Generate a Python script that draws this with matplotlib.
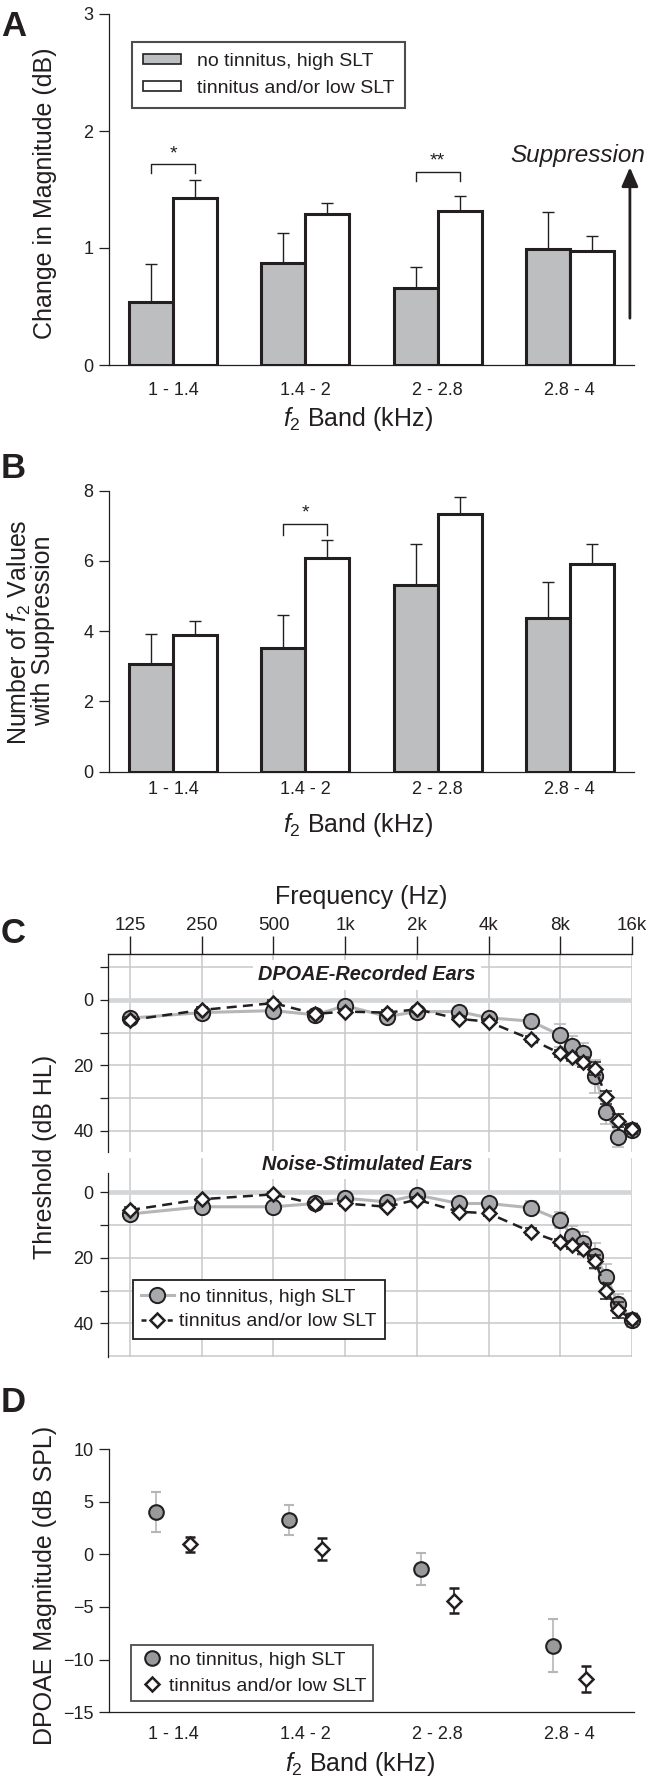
import numpy as np
import matplotlib
matplotlib.use('Agg')
import matplotlib.pyplot as plt
from matplotlib.patches import Patch
from matplotlib.lines import Line2D
from matplotlib.ticker import NullLocator, FixedLocator

plt.rcParams['font.family'] = ['Liberation Sans', 'DejaVu Sans']
plt.rcParams['mathtext.fontset'] = 'custom'
plt.rcParams['mathtext.rm'] = 'Liberation Sans'
plt.rcParams['mathtext.it'] = 'Liberation Sans:italic'
plt.rcParams['mathtext.bf'] = 'Liberation Sans:bold'

# ---------------- data ----------------
bands = ['1 - 1.4', '1.4 - 2', '2 - 2.8', '2.8 - 4']
legend_labels = ['no tinnitus, high SLT', 'tinnitus and/or low SLT']

# Panel A: change in magnitude (dB)
a_no = [0.54, 0.87, 0.655, 0.99]
a_no_err = [0.32, 0.255, 0.185, 0.32]
a_tin = [1.43, 1.29, 1.32, 0.975]
a_tin_err = [0.15, 0.095, 0.125, 0.13]

# Panel B: number of f2 values with suppression
b_no = [3.08, 3.53, 5.32, 4.39]
b_no_err = [0.83, 0.93, 1.16, 1.02]
b_tin = [3.90, 6.07, 7.34, 5.92]
b_tin_err = [0.40, 0.52, 0.47, 0.57]

# Panel C: audiometric thresholds (dB HL)
freqs = [125, 250, 500, 750, 1000, 1500, 2000, 3000, 4000, 6000,
         8000, 9000, 10000, 11200, 12500, 14000, 16000]
freq_ticks = [125, 250, 500, 1000, 2000, 4000, 8000, 16000]
freq_labels = ['125', '250', '500', '1k', '2k', '4k', '8k', '16k']

c_rec_no = [5.6, 3.9, 3.3, 4.6, 1.8, 5.1, 3.6, 3.6, 5.5, 6.5,
            10.8, 14.2, 16.2, 23.4, 34.4, 42.0, 39.7]
c_rec_no_se = [1.0, 1.0, 1.0, 1.0, 1.0, 1.0, 1.0, 1.0, 1.2, 2.0,
               3.5, 3.0, 3.0, 5.0, 3.5, 3.0, 2.0]
c_rec_tin = [6.2, 3.1, 1.0, 4.3, 3.6, 3.9, 2.9, 5.8, 6.7, 12.0,
             16.4, 17.4, 19.0, 21.0, 29.8, 37.0, 39.4]
c_rec_tin_se = [0.8, 0.8, 0.8, 0.8, 0.8, 0.8, 0.8, 0.8, 0.8, 1.0,
                1.2, 1.2, 1.5, 2.0, 2.0, 2.0, 1.5]

c_noi_no = [6.6, 4.4, 4.4, 3.4, 1.8, 2.9, 0.8, 3.4, 3.4, 4.7,
            8.5, 13.4, 15.6, 19.5, 25.8, 34.0, 39.0]
c_noi_no_se = [1.0, 1.0, 1.0, 1.0, 1.0, 1.0, 1.0, 1.0, 1.0, 2.0,
               2.5, 3.0, 3.5, 4.0, 4.0, 3.0, 2.0]
c_noi_tin = [5.4, 2.1, 0.6, 3.6, 3.4, 4.4, 2.2, 5.9, 6.4, 12.0,
             15.3, 16.1, 17.4, 21.0, 30.2, 36.0, 38.8]
c_noi_tin_se = [0.8, 0.8, 0.8, 0.8, 0.8, 0.8, 0.8, 0.8, 0.8, 1.0,
                1.2, 1.2, 1.5, 2.0, 2.5, 2.5, 1.5]

# Panel D: DPOAE magnitude (dB SPL)
d_no = [4.05, 3.26, -1.42, -8.67]
d_no_err = [1.9, 1.42, 1.5, 2.55]
d_tin = [0.95, 0.47, -4.4, -11.87]
d_tin_err = [0.7, 1.05, 1.2, 1.25]

# ---------------- style ----------------
K = '#231f20'
BAR_GRAY = '#bcbec0'
PT_GRAY = '#a7a9ac'
LINE_GRAY = '#b5b6b8'
GRID = '#c8c9cb'

W, H = 646, 1786
fig = plt.figure(figsize=(W / 100, H / 100), dpi=100)


def rect(l, t, r, b):
    return [l / W, 1 - b / H, (r - l) / W, (b - t) / H]


def fx(x):
    return x / W


def fy(y):
    return 1 - y / H


LABEL_FS = 18
TICK_FS = 13
LEG_FS = 14


def style_simple(ax):
    for s in ['top', 'right']:
        ax.spines[s].set_visible(False)
    for s in ['left', 'bottom']:
        ax.spines[s].set_color(K)
        ax.spines[s].set_linewidth(0.9)
    ax.tick_params(axis='y', direction='out', length=7.2, width=0.9,
                   color=K, labelcolor=K, labelsize=TICK_FS, pad=4)


x = np.arange(len(bands))
bw = 0.333


def bar_panel(ax, no, no_err, tin, tin_err, ylim, yticks, xpad):
    ax.bar(x - bw / 2, no, bw, color=BAR_GRAY, edgecolor=K, linewidth=2.2, zorder=3)
    ax.bar(x + bw / 2, tin, bw, color='white', edgecolor=K, linewidth=2.2, zorder=3)
    ax.errorbar(x - bw / 2, no, yerr=[np.zeros(len(no)), no_err], fmt='none',
                ecolor=K, elinewidth=1.0, capsize=4, capthick=1.0, zorder=2)
    ax.errorbar(x + bw / 2, tin, yerr=[np.zeros(len(tin)), tin_err], fmt='none',
                ecolor=K, elinewidth=1.0, capsize=4, capthick=1.0, zorder=2)
    ax.set_xlim(-0.484, 3.485)
    ax.set_ylim(*ylim)
    ax.set_yticks(yticks)
    ax.set_xticks(x)
    ax.set_xticklabels(bands)
    style_simple(ax)
    ax.tick_params(axis='x', length=0, labelsize=TICK_FS, labelcolor=K, pad=xpad)


def bracket(ax, i, y_top, y_leg, stars, y_star):
    x0, x1 = i - bw / 2, i + bw / 2
    ax.plot([x0, x0, x1, x1], [y_leg, y_top, y_top, y_leg], color=K, lw=1.0,
            zorder=4, clip_on=False)
    ax.text(i, y_star, stars, ha='center', va='center', fontsize=14, color=K)


# ---------------- Panel A ----------------
axA = fig.add_axes(rect(109, 14, 634, 365))
bar_panel(axA, a_no, a_no_err, a_tin, a_tin_err, (0, 3), [0, 1, 2, 3], 12)
bracket(axA, 0, 1.72, 1.64, '*', 1.80)
bracket(axA, 2, 1.65, 1.57, '**', 1.74)
axA.annotate('', xy=(3.454, 1.69), xytext=(3.454, 0.40),
             arrowprops=dict(arrowstyle='-|>,head_length=1.15,head_width=0.5',
                             lw=2.0, color=K, mutation_scale=10,
                             shrinkA=0, shrinkB=0),
             annotation_clip=False)
fig.text(fx(645), fy(162), 'Suppression', ha='right', va='baseline',
         style='italic', fontsize=17.5, color=K)
hA = [Patch(facecolor=BAR_GRAY, edgecolor=K, lw=1.2),
      Patch(facecolor='white', edgecolor=K, lw=1.2)]
legA = axA.legend(hA, legend_labels, loc='upper left',
                  bbox_to_anchor=(fx(132), fy(42)), bbox_transform=fig.transFigure,
                  borderaxespad=0, fontsize=LEG_FS, frameon=True, fancybox=False,
                  edgecolor=K, handlelength=1.96, handleheight=0.46,
                  handletextpad=0.8, borderpad=0.57, labelspacing=0.5)
legA.get_frame().set_linewidth(1.5)
for t in legA.get_texts():
    t.set_color(K)
fig.text(fx(45), fy(193), 'Change in Magnitude (dB)', rotation=90,
         ha='center', va='center', fontsize=LABEL_FS, color=K)
fig.text(fx(358), fy(426), '$f_2$ Band (kHz)', ha='center', va='baseline',
         fontsize=LABEL_FS, color=K)

# ---------------- Panel B ----------------
axB = fig.add_axes(rect(109, 490.7, 634, 771.7))
bar_panel(axB, b_no, b_no_err, b_tin, b_tin_err, (0, 8), [0, 2, 4, 6, 8], 7)
bracket(axB, 1, 7.04, 6.74, '*', 7.38)
fig.text(fx(19), fy(632), 'Number of $f_2$ Values', rotation=90,
         ha='center', va='center', fontsize=LABEL_FS, color=K)
fig.text(fx(43), fy(631), 'with Suppression', rotation=90,
         ha='center', va='center', fontsize=LABEL_FS, color=K)
fig.text(fx(358), fy(832), '$f_2$ Band (kHz)', ha='center', va='baseline',
         fontsize=LABEL_FS, color=K)

# ---------------- Panel C ----------------
def audiogram(ax, no, no_se, tin, tin_se, ylim, ygrid):
    ax.set_xscale('log', base=2)
    ax.set_xlim(101, 16000)
    ax.set_ylim(*ylim)
    ax.xaxis.set_major_locator(FixedLocator(freq_ticks))
    ax.xaxis.set_minor_locator(NullLocator())
    for f in freq_ticks:
        ax.axvline(f, color=GRID, lw=1.1, zorder=0.5)
    for g in ygrid:
        ax.axhline(g, color=GRID, lw=1.1, zorder=0.5)
    ax.axhline(0, color='#d4d5d7', lw=3.3, zorder=0.6)
    ax.errorbar(freqs, no, yerr=no_se, fmt='none', ecolor=LINE_GRAY,
                elinewidth=1.1, capsize=4, capthick=1.1, zorder=2, clip_on=False)
    ax.plot(freqs, no, '-', color=LINE_GRAY, lw=2.2, zorder=2.5, clip_on=False)
    ax.plot(freqs, no, 'o', ms=11, mfc=PT_GRAY, mec=K, mew=1.4, zorder=3,
            clip_on=False)
    ax.errorbar(freqs, tin, yerr=tin_se, fmt='none', ecolor=K,
                elinewidth=1.1, capsize=4, capthick=1.1, zorder=3.5, clip_on=False)
    ax.plot(freqs, tin, '--', color=K, lw=1.8, dashes=(4, 2.5), zorder=4,
            clip_on=False)
    ax.plot(freqs, tin, 'D', ms=7.5, mfc='white', mec=K, mew=1.8, zorder=5,
            clip_on=False)
    for s in ['right', 'bottom']:
        ax.spines[s].set_visible(False)
    ax.spines['left'].set_color(K)
    ax.spines['left'].set_linewidth(0.9)
    ax.spines['top'].set_color(K)
    ax.spines['top'].set_linewidth(1.0)
    ax.yaxis.set_major_locator(FixedLocator([0, 20, 40]))
    ax.tick_params(axis='y', which='both', direction='out', length=5.5,
                   width=0.9, color=K, labelcolor=K, labelsize=TICK_FS, pad=5)


axC1 = fig.add_axes(rect(108, 954, 632, 1152))
audiogram(axC1, c_rec_no, c_rec_no_se, c_rec_tin, c_rec_tin_se, (46.5, -14),
          [-10, 10, 20, 30, 40])
axC1.yaxis.set_minor_locator(FixedLocator([-10, 10, 30]))
axC1.xaxis.tick_top()
axC1.set_xticklabels(freq_labels)
axC1.tick_params(axis='x', which='major', direction='out', length=13, width=1.0,
                 color=K, labelcolor=K, labelsize=13.5, pad=1.5)
axC1.text(fx(367), fy(975), 'DPOAE-Recorded Ears', transform=fig.transFigure,
          ha='center', va='center', fontsize=14.3, fontweight='bold',
          style='italic', color=K, zorder=1,
          bbox=dict(facecolor='white', edgecolor='none', pad=4))
fig.text(fx(361), fy(897), 'Frequency (Hz)', ha='center', va='center',
         fontsize=LABEL_FS, color=K)

axC2 = fig.add_axes(rect(108, 1158, 632, 1357))
audiogram(axC2, c_noi_no, c_noi_no_se, c_noi_tin, c_noi_tin_se, (50.3, -10.5),
          [10, 20, 30, 40, 50])
axC2.yaxis.set_minor_locator(FixedLocator([10, 30]))
axC2.spines['top'].set_visible(False)
axC2.spines['left'].set_bounds(-6, 50.3)
axC2.tick_params(axis='x', which='both', length=0, labelbottom=False,
                 labeltop=False)
axC2.text(fx(367), fy(1165), 'Noise-Stimulated Ears', transform=fig.transFigure,
          ha='center', va='center', fontsize=14.3, fontweight='bold',
          style='italic', color=K, zorder=1,
          bbox=dict(facecolor='white', edgecolor='none', pad=3))
hC = [Line2D([], [], color=LINE_GRAY, lw=2.2, marker='o', ms=11, mfc=PT_GRAY,
             mec=K, mew=1.4),
      Line2D([], [], color=K, lw=1.8, ls='--', dashes=(2, 1.5), marker='D',
             ms=7.5, mfc='white', mec=K, mew=1.8)]
legC = axC2.legend(hC, legend_labels, loc='upper left',
                   bbox_to_anchor=(fx(132.7), fy(1280)),
                   bbox_transform=fig.transFigure, borderaxespad=0,
                   fontsize=LEG_FS, frameon=True, fancybox=False, edgecolor=K,
                   handlelength=1.7, handletextpad=0.26, borderpad=0.42,
                   labelspacing=0.36, numpoints=1, framealpha=1)
legC.get_frame().set_linewidth(1.3)
for t in legC.get_texts():
    t.set_color(K)
fig.text(fx(45), fy(1157), 'Threshold (dB HL)', rotation=90,
         ha='center', va='center', fontsize=LABEL_FS, color=K)

# ---------------- Panel D ----------------
axD = fig.add_axes(rect(109, 1449, 634, 1712.3))
off = 0.125
axD.errorbar(x - off, d_no, yerr=d_no_err, fmt='o', ms=10.5, mfc='#98999b',
             mec=K, mew=1.5, ecolor=LINE_GRAY, elinewidth=1.2, capsize=3.5,
             capthick=1.2)
axD.errorbar(x + off, d_tin, yerr=d_tin_err, fmt='D', ms=7, mfc='white',
             mec=K, mew=1.8, ecolor=K, elinewidth=1.2, capsize=3.5, capthick=1.2)
axD.set_xlim(-0.484, 3.485)
axD.set_ylim(-15, 10)
axD.set_yticks([-15, -10, -5, 0, 5, 10])
axD.set_xticks(x)
axD.set_xticklabels(bands)
style_simple(axD)
axD.tick_params(axis='x', length=0, labelsize=TICK_FS, labelcolor=K, pad=10)
hD = [Line2D([], [], ls='none', marker='o', ms=10.5, mfc='#98999b', mec=K, mew=1.5),
      Line2D([], [], ls='none', marker='D', ms=7, mfc='white', mec=K, mew=1.8)]
legD = axD.legend(hD, legend_labels, loc='upper left',
                  bbox_to_anchor=(fx(131), fy(1645)),
                  bbox_transform=fig.transFigure, borderaxespad=0,
                  fontsize=LEG_FS, frameon=True, fancybox=False, edgecolor=K,
                  handlelength=1.46, handletextpad=0.15, borderpad=0.34,
                  labelspacing=0.41, numpoints=1)
legD.get_frame().set_linewidth(1.3)
for t in legD.get_texts():
    t.set_color(K)
fig.text(fx(45), fy(1585), 'DPOAE Magnitude (dB SPL)', rotation=90,
         ha='center', va='center', fontsize=LABEL_FS, color=K)
fig.text(fx(360), fy(1771), '$f_2$ Band (kHz)', ha='center', va='baseline',
         fontsize=LABEL_FS, color=K)

# ---------------- panel letters ----------------
for letter, yb in [('A', 36), ('B', 478), ('C', 943), ('D', 1412)]:
    fig.text(fx(1), fy(yb), letter, ha='left', va='baseline', fontsize=25,
             fontweight='bold', color=K)

fig.savefig('out.png', dpi=100)
